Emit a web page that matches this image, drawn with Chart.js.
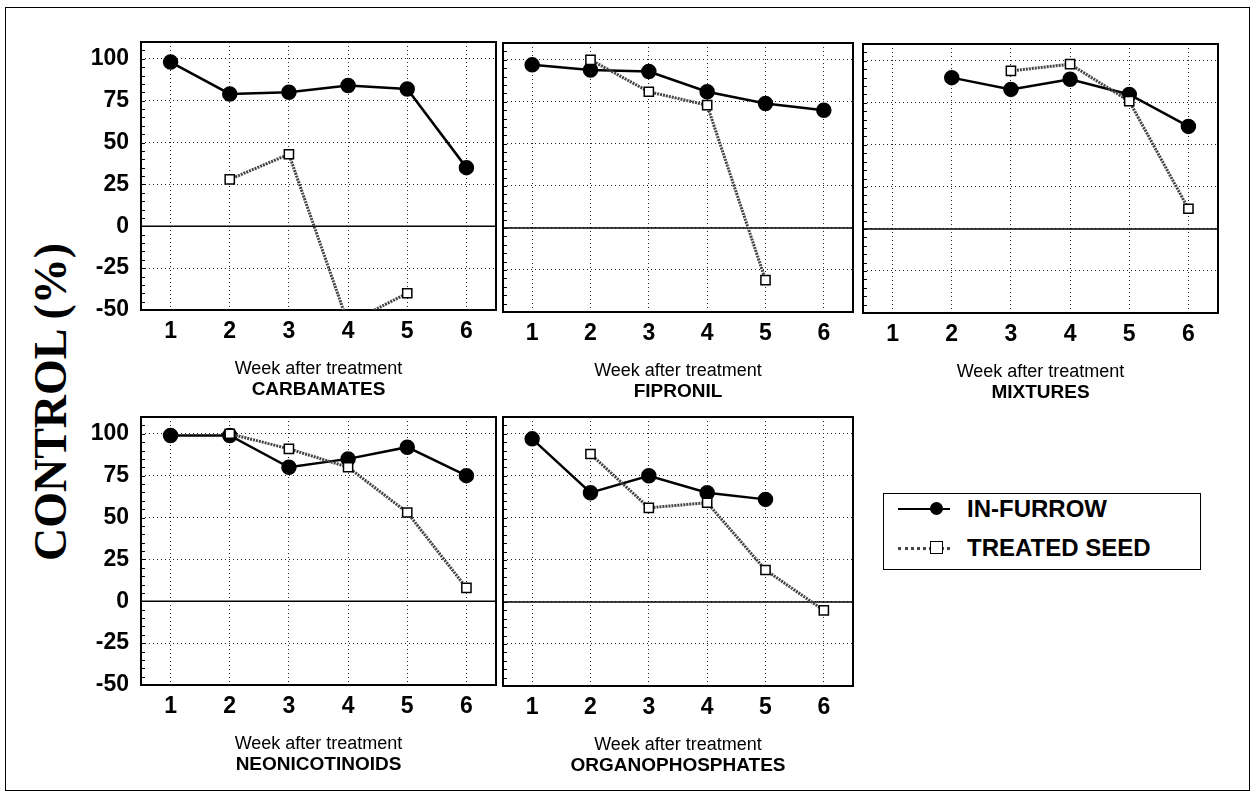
<!DOCTYPE html>
<html>
<head>
<meta charset="utf-8">
<script src="https://cdn.jsdelivr.net/npm/chart.js@4.4.1/dist/chart.umd.min.js"></script>
<style>
  body { margin: 0; background: #fff; width: 1256px; height: 801px; position: relative; overflow: hidden; }
  .frame { position: absolute; left: 5px; top: 7px; width: 1243px; height: 782px; border: 1.5px solid #000; }
  canvas { position: absolute; }
  .ylabel {
    position: absolute; left: 50px; top: 402px; transform: translate(-50%, -50%) rotate(-90deg);
    font: bold 46px "Liberation Serif", "Times New Roman", serif; white-space: nowrap; color: #000;
  }
  .legend { position: absolute; left: 883px; top: 493px; width: 316px; height: 75px; border: 1.5px solid #000; }
  .row { position: absolute; left: 0; height: 30px; width: 100%; }
  .row span { position: absolute; left: 83px; top: 50%; transform: translateY(-50%); font: bold 24px "Liberation Sans", Arial, sans-serif; }
  .sample { position: absolute; left: 14px; width: 52px; top: 50%; }
  .solid { border-top: 2.5px solid #000; margin-top: -1px; }
  .dotted { border-top: 3px dotted #444; margin-top: -1px; }
  .dot { position: absolute; left: 32px; top: -8px; width: 13px; height: 13px; border-radius: 50%; background: #000; }
  .sq { position: absolute; left: 32px; top: -9px; width: 11px; height: 11px; background: #fff; border: 1.5px solid #000; }
</style>
</head>
<body>
<div class="frame"></div>
<div class="ylabel">CONTROL (%)</div>
<div class="legend">
  <div class="row" style="top:0px"><div class="sample solid"><div class="dot"></div></div><span>IN-FURROW</span></div>
  <div class="row" style="top:39px"><div class="sample dotted"><div class="sq"></div></div><span>TREATED SEED</span></div>
</div>
<canvas id="c1"></canvas>
<canvas id="c2"></canvas>
<canvas id="c3"></canvas>
<canvas id="c4"></canvas>
<canvas id="c5"></canvas>
<script>
const weeks = [1, 2, 3, 4, 5, 6];
const yTicks = [-50, -25, 0, 25, 50, 75, 100];
const xTitle = "Week after treatment";

const groups = ["CARBAMATES", "FIPRONIL", "MIXTURES", "NEONICOTINOIDS", "ORGANOPHOSPHATES"];

const carbamatesFurrow = [98, 79, 80, 84, 82, 35];
const carbamatesSeed = [null, 28, 43, -58, -40, null];
const fipronilFurrow = [97, 94, 93, 81, 74, 70];
const fipronilSeed = [null, 100, 81, 73, -31, null];
const mixturesFurrow = [null, 90, 83, 89, 80, 61];
const mixturesSeed = [null, null, 94, 98, 76, 12];
const neonicFurrow = [99, 99, 80, 85, 92, 75];
const neonicSeed = [null, 100, 91, 80, 53, 8];
const organoFurrow = [97, 65, 75, 65, 61, null];
const organoSeed = [null, 88, 56, 59, 19, -5];

const boxPlugin = {
  id: "boxPlugin",
  beforeDatasetsDraw(chart) {
    const { ctx, chartArea: a, scales } = chart;
    const y = scales.y;
    ctx.save();
    ctx.strokeStyle = "#000";
    // minor ticks on the left edge
    ctx.lineWidth = 1;
    for (let v = -50; v <= 110; v += 5) {
      const py = Math.round(y.getPixelForValue(v)) + 0.5;
      ctx.beginPath(); ctx.moveTo(a.left, py); ctx.lineTo(a.left + 4, py); ctx.stroke();
    }
    const y0 = y.getPixelForValue(0);
    ctx.lineWidth = 1.6;
    ctx.beginPath(); ctx.moveTo(a.left, y0); ctx.lineTo(a.right, y0); ctx.stroke();
    ctx.lineWidth = 2;
    ctx.strokeRect(a.left, a.top, a.width, a.height);
    ctx.restore();
  }
};

function pts(vals) {
  return weeks.map((w, i) => ({ x: w, y: vals[i] }));
}

function noPad(s) {
  s.paddingLeft = 0; s.paddingRight = 0; s.paddingTop = 0; s.paddingBottom = 0;
}

function makePanel(id, area, name, furrow, seed, showY) {
  const padL = 3, padR = 4, padT = 6, xH = 70, titleH = 20;
  const yW = showY ? 81 : 0;
  const w = padL + yW + (area.right - area.left) + padR;
  const h = padT + (area.bottom - area.top) + xH + titleH;
  const cv = document.getElementById(id);
  cv.style.left = (area.left - yW - padL) + "px";
  cv.style.top = (area.top - padT) + "px";
  cv.width = w; cv.height = h;
  cv.style.width = w + "px"; cv.style.height = h + "px";

  const chart = new Chart(cv.getContext("2d"), {
    type: "line",
    data: {
      datasets: [
        {
          label: "TREATED SEED",
          data: pts(seed),
          order: 0,
          borderColor: "#444",
          borderWidth: 3,
          borderDash: [2, 1],
          pointStyle: "rect",
          pointRadius: 6.5,
          pointBackgroundColor: "#fff",
          pointBorderColor: "#000",
          pointBorderWidth: 1.5,
          tension: 0
        },
        {
          label: "IN-FURROW",
          data: pts(furrow),
          order: 1,
          borderColor: "#000",
          borderWidth: 2.5,
          pointStyle: "circle",
          pointRadius: 6.5,
          pointBackgroundColor: "#000",
          pointBorderColor: "#000",
          tension: 0
        }
      ]
    },
    options: {
      responsive: false,
      maintainAspectRatio: false,
      animation: false,
      events: [],
      layout: { padding: { left: padL, right: padR, top: padT, bottom: 0 } },
      plugins: {
        legend: { display: false },
        tooltip: { enabled: false },
        title: {
          display: true,
          text: name,
          position: "bottom",
          fullSize: false,
          color: "#000",
          font: { family: "'Liberation Sans Narrow', 'Liberation Sans', Arial", size: 19, weight: "bold", lineHeight: 1 },
          padding: { top: 0, bottom: 2 }
        }
      },
      scales: {
        x: {
          type: "linear",
          min: 0.5,
          max: 6.5,
          afterBuildTicks: (s) => { s.ticks = weeks.map((v) => ({ value: v })); },
          afterFit: (s) => { s.height = xH; noPad(s); },
          grid: { color: "#222", lineWidth: 1, drawTicks: false },
          border: { display: false, dash: [1, 3] },
          ticks: {
            color: "#000",
            padding: 8,
            font: { family: "'Liberation Sans', Arial", size: 23, weight: "bold" }
          },
          title: {
            display: true,
            text: xTitle,
            color: "#000",
            font: { family: "'Liberation Sans Narrow', 'Liberation Sans', Arial", size: 18, lineHeight: 1.2 },
            padding: { top: 0, bottom: 0 }
          }
        },
        y: {
          min: -50,
          max: 110,
          afterBuildTicks: (s) => { s.ticks = yTicks.map((v) => ({ value: v })); },
          afterFit: (s) => { s.width = yW; noPad(s); },
          grid: { color: "#222", lineWidth: 1, drawTicks: false },
          border: { display: false, dash: [1, 3] },
          ticks: {
            display: showY,
            color: "#000",
            padding: 12,
            font: { family: "'Liberation Sans', Arial", size: 23, weight: "bold" }
          }
        }
      }
    },
    plugins: [boxPlugin]
  });

  // shift/resize the canvas so the plot area lands where the panel box is
  let cl = parseFloat(cv.style.left), ct = parseFloat(cv.style.top);
  for (let k = 0; k < 3; k++) {
    const a = chart.chartArea;
    const cw = chart.width, ch = chart.height;
    cl = cl + (area.left - (cl + a.left));
    ct = ct + (area.top - (ct + a.top));
    const W = Math.round(area.right - cl + (cw - a.right));
    const H = Math.round(area.bottom - ct + (ch - a.bottom));
    cv.style.left = cl + "px";
    cv.style.top = ct + "px";
    chart.resize(W, H);
  }
}

makePanel("c1", { left: 141, right: 496, top: 42, bottom: 310 }, groups[0], carbamatesFurrow, carbamatesSeed, true);
makePanel("c2", { left: 503, right: 853, top: 43, bottom: 312 }, groups[1], fipronilFurrow, fipronilSeed, false);
makePanel("c3", { left: 863, right: 1218, top: 44, bottom: 313 }, groups[2], mixturesFurrow, mixturesSeed, false);
makePanel("c4", { left: 141, right: 496, top: 417, bottom: 685 }, groups[3], neonicFurrow, neonicSeed, true);
makePanel("c5", { left: 503, right: 853, top: 417, bottom: 686 }, groups[4], organoFurrow, organoSeed, false);
</script>
</body>
</html>
